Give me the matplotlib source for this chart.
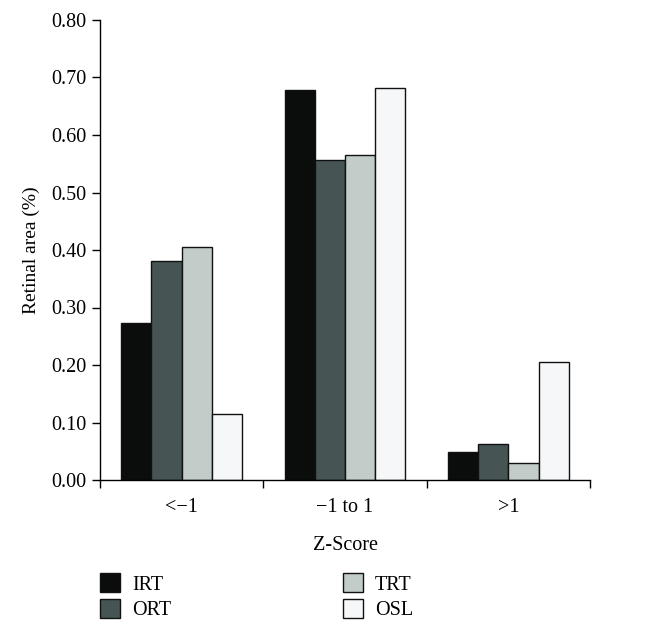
import numpy as np
import matplotlib.pyplot as plt

plt.rcParams['font.family'] = ['Liberation Serif', 'DejaVu Serif']

categories = ['<\u22121', '\u22121 to 1', '>1']
series = ['IRT', 'ORT', 'TRT', 'OSL']
irt = [0.273, 0.679, 0.048]
ort = [0.381, 0.556, 0.063]
trt = [0.406, 0.566, 0.029]
osl = [0.115, 0.682, 0.206]
colors = ['#0a0d0b', '#465454', '#c2ccc9', '#f5f7f8']

values = [irt, ort, trt, osl]

fig = plt.figure(figsize=(6.6, 6.35), dpi=100)
ax = fig.add_axes([100 / 660, 155 / 635, 490 / 660, 460 / 635])

x = np.arange(len(categories)) + 0.5
width = 0.185
for i, (name, vals) in enumerate(zip(series, values)):
    ax.bar(x + (i - 1.5) * width, vals, width, color=colors[i],
           edgecolor='#111111', linewidth=1.0, label=name)

ax.set_xlim(0, 3)
ax.set_ylim(0, 0.8)
ax.set_yticks(np.arange(0, 0.81, 0.1))
ax.set_yticklabels(['%.2f' % v for v in np.arange(0, 0.81, 0.1)])
ax.set_xticks(x)
ax.set_xticklabels(categories)
ax.set_xticks([0, 1, 2, 3], minor=True)
ax.tick_params(axis='x', which='major', length=0, pad=13, labelsize=14.5)
ax.tick_params(axis='x', which='minor', length=6, width=1.0, direction='out')
ax.tick_params(axis='y', length=6, width=1.0, direction='out', labelsize=14.5)

for s in ['top', 'right']:
    ax.spines[s].set_visible(False)
for s in ['left', 'bottom']:
    ax.spines[s].set_linewidth(1.0)

ax.set_ylabel('Retinal area (%)', fontsize=14, labelpad=8)
ax.set_xlabel('Z-Score', fontsize=14.5, labelpad=14)

fig.legend(loc='upper left', bbox_to_anchor=(92 / 660, 70 / 635), ncol=2,
           frameon=False, fontsize=14.5, handlelength=1.0, handleheight=1.1,
           handletextpad=0.6, columnspacing=8.5, labelspacing=0.2,
           borderaxespad=0)

fig.savefig('out.png', dpi=100)
